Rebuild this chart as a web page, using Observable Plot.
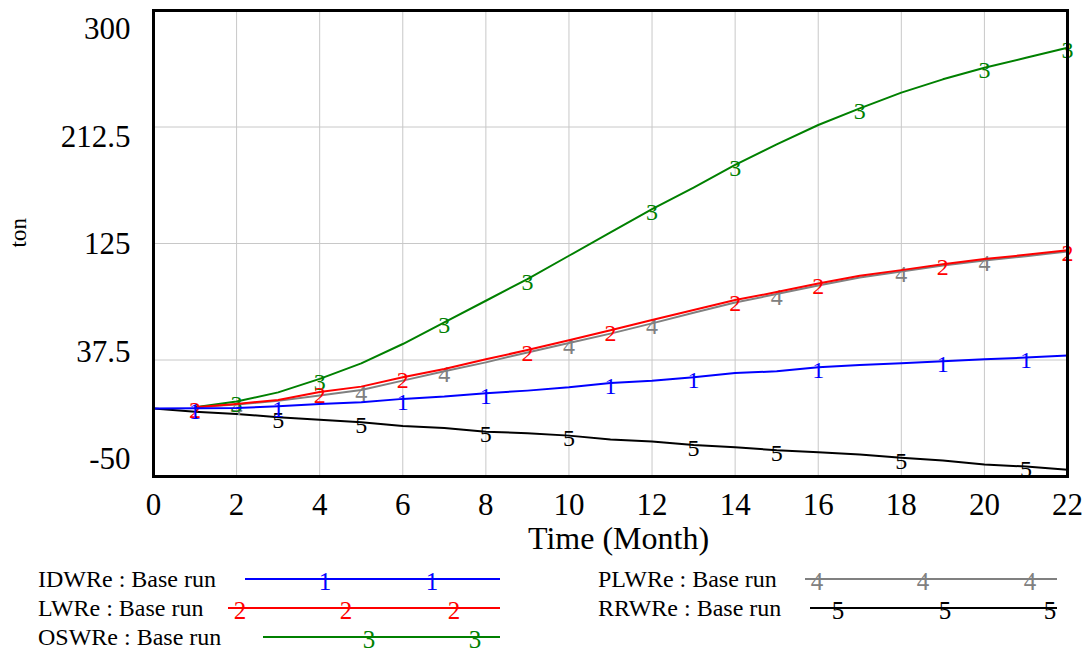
<!DOCTYPE html>
<html><head><meta charset="utf-8">
<script src="https://cdn.jsdelivr.net/npm/d3@7"></script>
<script src="https://cdn.jsdelivr.net/npm/@observablehq/plot@0.6"></script>
<style>
body{margin:0;background:#fff;font-family:"Liberation Serif","Times New Roman",serif;}
#chart svg{display:block}
#chart text{font-family:"Liberation Serif","Times New Roman",serif;}
</style></head><body><div id="chart"></div><script>
// ---- data ----
const months = [0,1,2,3,4,5,6,7,8,9,10,11,12,13,14,15,16,17,18,19,20,21,22];
const IDWRe = [1,1.2,1.5,2.7,4.5,5.7,8.3,10,12.5,14.5,17,20.3,22,24.5,27.8,29,32,33.8,35,36.5,38,39.3,40.8];
const LWRe  = [null,2,4.5,7.5,13.5,17.5,24.5,30.8,38,45,52.3,59.8,67.5,75,82.5,88.5,95,100.8,105,109.5,113.3,116.5,120];
const OSWRe = [null,2,6.3,13.2,23.3,35,49.5,65.7,82,98.3,115.8,133.3,150.8,167,184,199.5,214,226.5,238.3,248.3,257,264.5,272];
const PLWRe = [null,2,4,6.8,10.8,15,22,29,35.7,43.2,50.2,57.3,65,73,80.7,87,93.5,99.5,104,108.5,112.3,115.5,119];
const RRWRe = [1,-1.3,-3,-5.5,-7.3,-9.3,-12,-13.5,-16.3,-17.5,-19.3,-22.3,-23.8,-26.3,-28,-30.3,-31.8,-33.5,-36,-38,-41,-42.5,-45];
const seriesNames = ["IDWRe","LWRe","OSWRe","PLWRe","RRWRe"];
const seriesValues = [IDWRe, LWRe, OSWRe, PLWRe, RRWRe];
const seriesNumbers = ["1","2","3","4","5"];
const seriesColors = ["#0000ff","#ff0000","#008000","#808080","#000000"];
const markerMonths1 = [1,3,6,8,11,13,16,19,21];
const markerMonths2 = [1,4,6,9,11,14,16,19,22];
const markerMonths3 = [2,4,7,9,12,14,17,20,22];
const markerMonths4 = [2,5,7,10,12,15,18,20];
const markerMonths5 = [3,5,8,10,13,15,18,21];
const markerMonths = [markerMonths1, markerMonths2, markerMonths3, markerMonths4, markerMonths5];
const xTicks = [0,2,4,6,8,10,12,14,16,18,20,22];
const yTicks = [300,212.5,125,37.5,-50];
const yTickLabels = ["300","212.5","125","37.5","-50"];
const xTitle = "Time (Month)";
const yTitle = "ton";
const runName = "Base run";

// ---- build ----
const SERIF = '"Liberation Serif", "Times New Roman", serif';
const rows = seriesNames.map((s, k) =>
  months.map((m, i) => ({series: s, month: m, value: seriesValues[k][i]})).filter(d => d.value != null));
const markers = seriesNames.map((s, k) =>
  markerMonths[k].map(m => ({series: s, month: m, value: seriesValues[k][months.indexOf(m)], label: seriesNumbers[k]})));

const marks = [
  Plot.gridX(xTicks, {stroke: "#c8c8c8", strokeOpacity: 1}),
  Plot.gridY(yTicks, {stroke: "#c8c8c8", strokeOpacity: 1})
];
for (let k = seriesNames.length - 1; k >= 0; k--) {
  marks.push(Plot.line(rows[k], {x: "month", y: "value", stroke: seriesColors[k], strokeWidth: 2}));
  marks.push(Plot.text(markers[k], {x: "month", y: "value", text: "label", fill: seriesColors[k],
    fontSize: 24, fontFamily: SERIF, dy: 3}));
}
marks.push(Plot.frame({stroke: "black", strokeWidth: 3}));
marks.push(Plot.axisX(xTicks, {tickSize: 0, tickPadding: 16, label: null, fontSize: 31, fontFamily: SERIF}));
yTicks.forEach((t, i) => {
  marks.push(Plot.axisY([t], {tickSize: 0, tickPadding: 23, label: null, fontSize: 31, fontFamily: SERIF,
    dy: 19 - 9 * i, tickFormat: d => yTickLabels[yTicks.indexOf(d)]}));
});
marks.push(Plot.text([xTitle], {text: d => d, frameAnchor: "bottom", dx: 8, dy: 72, fontSize: 32, fontFamily: SERIF}));
marks.push(Plot.text([yTitle], {text: d => d, frameAnchor: "left", dx: -135, dy: 4, rotate: -90, fontSize: 23, fontFamily: SERIF}));

const chart = Plot.plot({
  width: 1085, height: 560,
  marginTop: 10, marginBottom: 84, marginLeft: 153, marginRight: 18,
  x: {domain: [0, 22]},
  y: {domain: [-50, 300]},
  style: {fontFamily: SERIF, fontSize: "30px", color: "black", background: "white"},
  marks
});
document.getElementById("chart").appendChild(chart);

// ---- legend ----
const legendLayout = [
  {k: 0, tx: 38,  y: 19, x1: 245, x2: 500, mk: [325, 432]},
  {k: 1, tx: 38,  y: 48, x1: 228, x2: 500, mk: [240, 346, 454]},
  {k: 2, tx: 38,  y: 77, x1: 263, x2: 500, mk: [369, 475]},
  {k: 3, tx: 598, y: 19, x1: 805, x2: 1057, mk: [817, 923, 1030]},
  {k: 4, tx: 598, y: 48, x1: 810, x2: 1057, mk: [838, 945, 1050]}
];
const lg = d3.select("#chart").append("svg").attr("width", 1085).attr("height", 94)
  .style("display", "block");
legendLayout.forEach(L => {
  const c = seriesColors[L.k];
  lg.append("text").attr("x", L.tx).attr("y", L.y).attr("dy", "0.35em").attr("font-size", 24)
    .attr("font-family", SERIF).attr("fill", "black").text(seriesNames[L.k] + " : " + runName);
  lg.append("line").attr("x1", L.x1).attr("x2", L.x2).attr("y1", L.y).attr("y2", L.y)
    .attr("stroke", c).attr("stroke-width", 2);
  L.mk.forEach(x => lg.append("text").attr("x", x).attr("y", L.y).attr("dy", "0.45em")
    .attr("text-anchor", "middle").attr("font-size", 25).attr("font-family", SERIF)
    .attr("fill", c).text(seriesNumbers[L.k]));
});
</script></body></html>
